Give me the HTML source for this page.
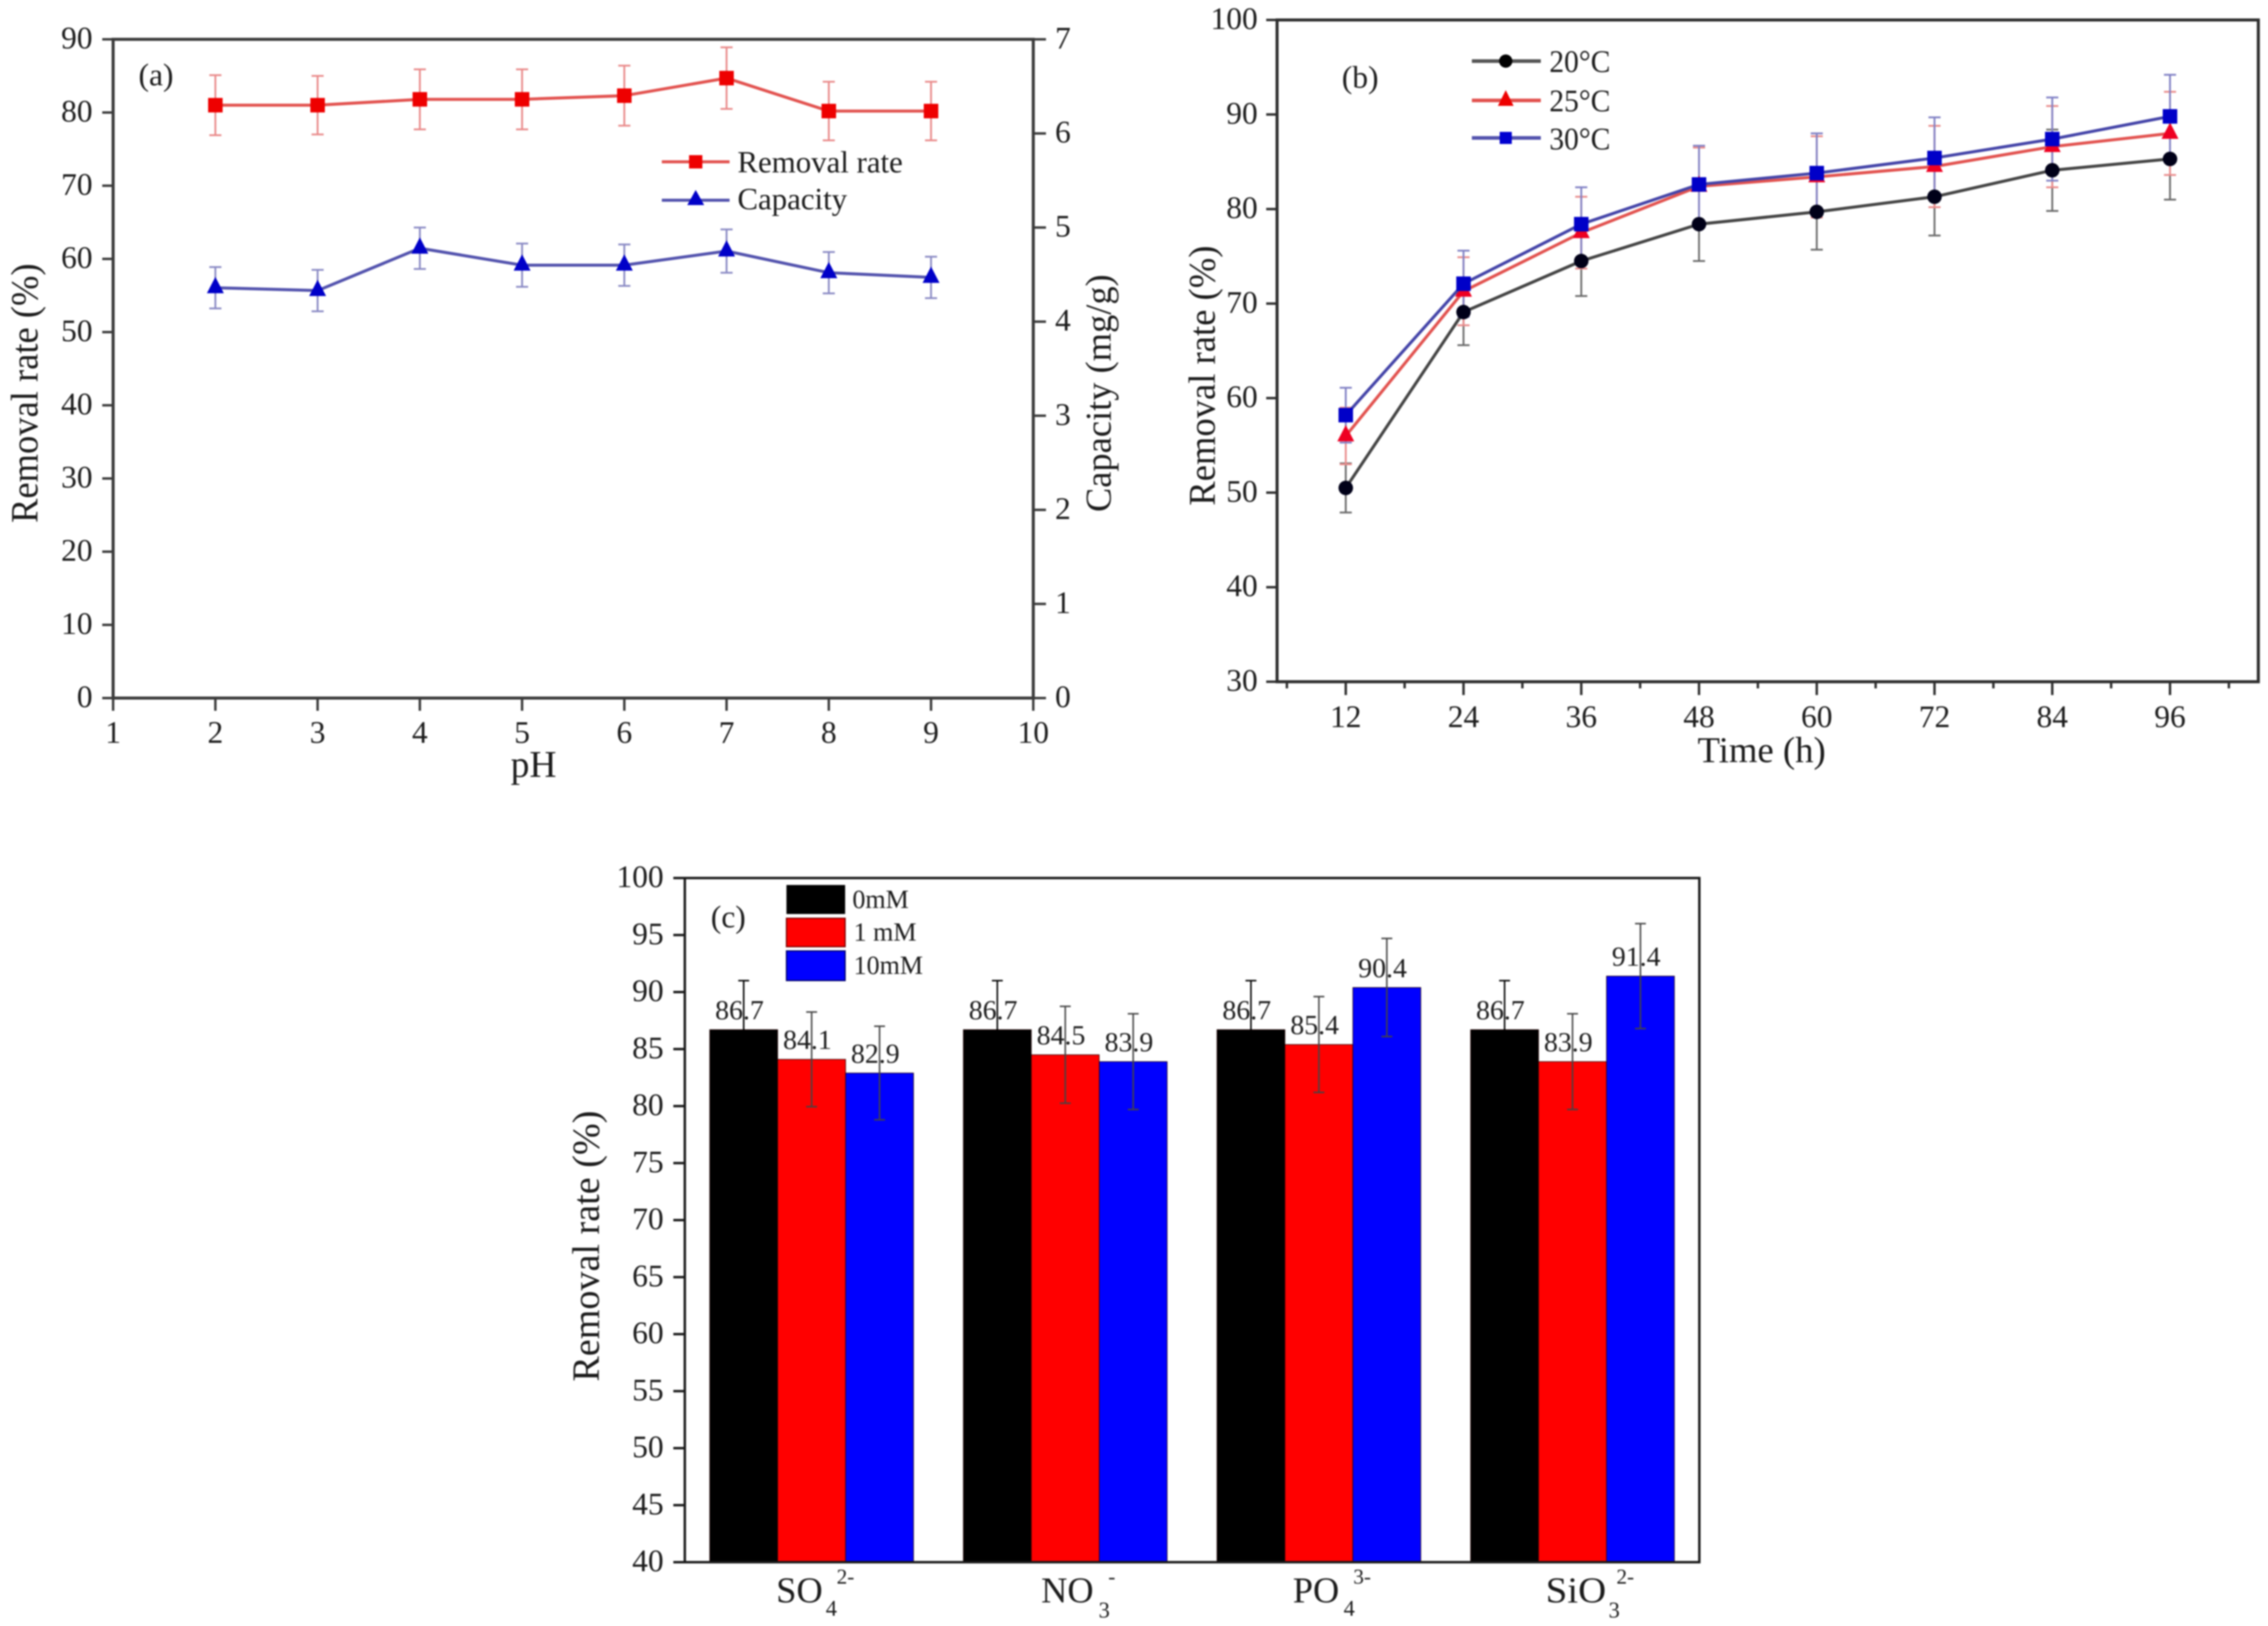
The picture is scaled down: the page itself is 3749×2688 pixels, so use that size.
<!DOCTYPE html>
<html lang="en">
<head>
<meta charset="utf-8">
<title>Removal rate charts</title>
<style>
html,body{margin:0;padding:0;background:#fff;}
svg{display:block;filter:blur(1.2px);font-family:"Liberation Serif",serif;}
text{fill:#1c1c1c;}
</style>
</head>
<body>
<svg id="figure" xmlns="http://www.w3.org/2000/svg" width="3749" height="2688" viewBox="0 0 3749 2688">
  <rect x="0" y="0" width="3749" height="2688" fill="#fff"/>

  <g id="panel-a">
    <text x="229" y="141" font-size="52">(a)</text>
    <text transform="translate(62,650) rotate(-90)" text-anchor="middle" font-size="64" textLength="429" lengthAdjust="spacingAndGlyphs">Removal rate (%)</text>
    <text transform="translate(1836,650) rotate(-90)" text-anchor="middle" font-size="60" textLength="393" lengthAdjust="spacingAndGlyphs">Capacity (mg/g)</text>
    <text x="882" y="1284" text-anchor="middle" font-size="62">pH</text>
    <g>
      <line x1="1094" x2="1206" y1="267.5" y2="267.5" stroke="#e2524f" stroke-width="5"/>
      <rect x="1139" y="256.5" width="22" height="22" fill="#ee0000"/>
      <text x="1219" y="285" font-size="51">Removal rate</text>
      <line x1="1094" x2="1206" y1="331" y2="331" stroke="#5252ad" stroke-width="5"/>
      <polygon points="1150,314 1136,339 1164,339" fill="#0000c8"/>
      <text x="1219" y="346" font-size="51">Capacity</text>
    </g>
  </g>

  <g id="panel-b">
    <text x="2218" y="145" font-size="52">(b)</text>
    <text transform="translate(2008,621) rotate(-90)" text-anchor="middle" font-size="62" textLength="430" lengthAdjust="spacingAndGlyphs">Removal rate (%)</text>
    <text x="2912" y="1260" text-anchor="middle" font-size="60" textLength="212" lengthAdjust="spacingAndGlyphs">Time (h)</text>
    <g>
      <line x1="2433" x2="2547" y1="101" y2="101" stroke="#555" stroke-width="6"/>
      <circle cx="2489" cy="101" r="11" fill="#000"/>
      <text x="2561" y="119" font-size="52" textLength="101" lengthAdjust="spacingAndGlyphs">20°C</text>
      <line x1="2433" x2="2547" y1="166" y2="166" stroke="#e2524f" stroke-width="6"/>
      <polygon points="2489,149 2476,175 2502,175" fill="#ee0000"/>
      <text x="2561" y="184" font-size="52" textLength="101" lengthAdjust="spacingAndGlyphs">25°C</text>
      <line x1="2433" x2="2547" y1="228" y2="228" stroke="#5252ad" stroke-width="6"/>
      <rect x="2479" y="218" width="20" height="20" fill="#0000d0"/>
      <text x="2561" y="247" font-size="52" textLength="101" lengthAdjust="spacingAndGlyphs">30°C</text>
    </g>
  </g>

  <g id="panel-c">
    <text x="1175" y="1533" font-size="52">(c)</text>
    <text transform="translate(990,2060) rotate(-90)" text-anchor="middle" font-size="64" textLength="448" lengthAdjust="spacingAndGlyphs">Removal rate (%)</text>
    <g>
      <rect x="1300" y="1463" width="97" height="48" fill="#000"/>
      <text x="1409" y="1501" font-size="43">0mM</text>
      <rect x="1300" y="1518" width="97" height="47" fill="#ff0000" stroke="#7a0000" stroke-width="2"/>
      <text x="1411" y="1555" font-size="43">1 mM</text>
      <rect x="1300" y="1572" width="97" height="49" fill="#0000ff" stroke="#00006a" stroke-width="2"/>
      <text x="1411" y="1610" font-size="43">10mM</text>
    </g>
    <g>
      <text x="1283" y="2649" font-size="60" textLength="77" lengthAdjust="spacingAndGlyphs">SO</text>
      <text x="1365" y="2671" font-size="37">4</text>
      <text x="1383" y="2618" font-size="35">2-</text>
      <text x="1721" y="2649" font-size="60">NO</text>
      <text x="1816" y="2674" font-size="37">3</text>
      <text x="1832" y="2618" font-size="35">-</text>
      <text x="2137" y="2649" font-size="60">PO</text>
      <text x="2221" y="2671" font-size="37">4</text>
      <text x="2237" y="2618" font-size="35">3-</text>
      <text x="2555" y="2649" font-size="60" textLength="100" lengthAdjust="spacingAndGlyphs">SiO</text>
      <text x="2659" y="2674" font-size="37">3</text>
      <text x="2672" y="2618" font-size="35">2-</text>
    </g>
  </g>
</svg>

<script>
/* Panel (a) data */
const phValues = [2, 3, 4, 5, 6, 7, 8, 9];
const removalRate = [81, 81, 81.8, 81.8, 82.3, 84.7, 80.2, 80.2];
const removalErr = [4.1, 4, 4.1, 4.1, 4.1, 4.2, 4, 4];
const capacityValues = [4.36, 4.33, 4.78, 4.6, 4.6, 4.75, 4.52, 4.47];
const capacityErr = [0.22, 0.22, 0.22, 0.23, 0.22, 0.23, 0.22, 0.22];
const phTicks = [1, 2, 3, 4, 5, 6, 7, 8, 9, 10];
const removalTicks = [0, 10, 20, 30, 40, 50, 60, 70, 80, 90];
const capacityTicks = [0, 1, 2, 3, 4, 5, 6, 7];

/* Panel (b) data */
const timeHours = [12, 24, 36, 48, 60, 72, 84, 96];
const minorTimeTicks = [6, 18, 30, 42, 54, 66, 78, 90, 102];
const temp20 = [50.5, 69.1, 74.5, 78.4, 79.7, 81.3, 84.1, 85.3];
const temp20Err = [2.6, 3.5, 3.7, 3.9, 4, 4.1, 4.3, 4.3];
const temp25 = [56, 71.3, 77.5, 82.4, 83.4, 84.5, 86.6, 88];
const temp25Err = [3, 3.6, 3.8, 4.1, 4.3, 4.3, 4.3, 4.4];
const temp30 = [58.2, 72.1, 78.4, 82.6, 83.8, 85.4, 87.4, 89.8];
const temp30Err = [2.9, 3.5, 3.9, 4.1, 4.2, 4.3, 4.4, 4.4];
const timeRemovalTicks = [30, 40, 50, 60, 70, 80, 90, 100];

/* Panel (c) data */
const ionCategories = ['SO4 2-', 'NO3 -', 'PO4 3-', 'SiO3 2-'];
const conc0mM = [86.7, 86.7, 86.7, 86.7];
const conc1mM = [84.1, 84.5, 85.4, 83.9];
const conc10mM = [82.9, 83.9, 90.4, 91.4];
const conc0mMErr = [4.3, 4.3, 4.3, 4.3];
const conc1mMErr = [4.15, 4.25, 4.2, 4.2];
const conc10mMErr = [4.1, 4.2, 4.3, 4.6];
const ionTicks = [40, 45, 50, 55, 60, 65, 70, 75, 80, 85, 90, 95, 100];

const SVG_NS = 'http://www.w3.org/2000/svg';

function make(parent, tag, attrs) {
  const el = document.createElementNS(SVG_NS, tag);
  for (const k in attrs) el.setAttribute(k, attrs[k]);
  parent.appendChild(el);
  return el;
}
function makeText(parent, str, x, y, size, anchor) {
  const el = make(parent, 'text', { x: x, y: y, 'font-size': size, 'text-anchor': anchor });
  el.textContent = str;
  return el;
}
function makeLine(parent, x1, y1, x2, y2, stroke, width) {
  return make(parent, 'line', { x1: x1, y1: y1, x2: x2, y2: y2, stroke: stroke, 'stroke-width': width });
}
function pointsAttr(xs, ys, xFn, yFn) {
  return xs.map(function (v, i) { return xFn(v) + ',' + yFn(ys[i]); }).join(' ');
}
function triPoints(x, y) {
  return x + ',' + (y - 18) + ' ' + (x - 14) + ',' + (y + 9) + ' ' + (x + 14) + ',' + (y + 9);
}

/* Axis functions */
const aLeft = 187, aRight = 1708, aTop = 65, aBottom = 1154;
const xA = function (v) { return aLeft + (v - 1) * (aRight - aLeft) / 9; };
const yA = function (v) { return aBottom - v * (aBottom - aTop) / 90; };
const yCap = function (v) { return aBottom - v * (aBottom - aTop) / 7; };

const bLeft = 2111, bRight = 3733, bTop = 33, bBottom = 1127;
const xB = function (v) { return bLeft + (v - 5) * (bRight - bLeft) / 100; };
const yB = function (v) { return bBottom - (v - 30) * (bBottom - bTop) / 70; };

const cLeft = 1132, cRight = 2809, cTop = 1451.5, cBottom = 2582.5;
const xC = function (i) { return cLeft + (i + 0.5) * (cRight - cLeft) / ionCategories.length; };
const yC = function (v) { return cBottom - (v - 40) * (cBottom - cTop) / 60; };

const panelA = document.getElementById('panel-a');
const panelB = document.getElementById('panel-b');
const panelC = document.getElementById('panel-c');

/* ---------- Panel (a) ---------- */
const axisColorA = '#3a3a3a';
const frameA = make(panelA, 'rect', { x: aLeft, y: aTop, width: aRight - aLeft, height: aBottom - aTop, fill: 'none', stroke: axisColorA, 'stroke-width': 5 });



removalTicks.forEach(function (t) {
  const tick = makeLine(panelA, aLeft - 18, yA(t), aLeft, yA(t), axisColorA, 4);
  
  
  const label = makeText(panelA, String(t), 153, yA(t) + 15, 52, 'end');
  
  
});
capacityTicks.forEach(function (t) {
  const tick = makeLine(panelA, aRight, yCap(t), aRight + 21, yCap(t), axisColorA, 4);
  
  
  const label = makeText(panelA, String(t), 1744, yCap(t) + 15, 52, 'start');
  
  
});
phTicks.forEach(function (t) {
  const tick = makeLine(panelA, xA(t), aBottom, xA(t), aBottom + 21, axisColorA, 4);
  
  
  const label = makeText(panelA, String(t), xA(t), 1228, 52, 'middle');
  
  
});

phValues.forEach(function (v, i) {
  const x = xA(v);
  const hi = yA(removalRate[i] + removalErr[i]);
  const lo = yA(removalRate[i] - removalErr[i]);
  const stem = makeLine(panelA, x, hi, x, lo, '#e98a8a', 3);
  
  
  const capTop = makeLine(panelA, x - 10, hi, x + 10, hi, '#e98a8a', 3);
  
  
  const capLow = makeLine(panelA, x - 10, lo, x + 10, lo, '#e98a8a', 3);
  
  
});
const removalLine = make(panelA, 'polyline', { points: pointsAttr(phValues, removalRate, xA, yA), fill: 'none', stroke: '#e2524f', 'stroke-width': 5 });


phValues.forEach(function (v, i) {
  const m = make(panelA, 'rect', { x: xA(v) - 12, y: yA(removalRate[i]) - 12, width: 24, height: 24, fill: '#ee0000' });
  
  
});

phValues.forEach(function (v, i) {
  const x = xA(v);
  const hi = yCap(capacityValues[i] + capacityErr[i]);
  const lo = yCap(capacityValues[i] - capacityErr[i]);
  const stem = makeLine(panelA, x, hi, x, lo, '#8a8ac4', 3);
  
  
  const capTop = makeLine(panelA, x - 10, hi, x + 10, hi, '#8a8ac4', 3);
  
  
  const capLow = makeLine(panelA, x - 10, lo, x + 10, lo, '#8a8ac4', 3);
  
  
});
const capacityLine = make(panelA, 'polyline', { points: pointsAttr(phValues, capacityValues, xA, yCap), fill: 'none', stroke: '#5252ad', 'stroke-width': 5 });


phValues.forEach(function (v, i) {
  const m = make(panelA, 'polygon', { points: triPoints(xA(v), yCap(capacityValues[i])), fill: '#0000c8' });
  
  
});

/* ---------- Panel (b) ---------- */
const axisColorB = '#2e2e2e';
const frameB = make(panelB, 'rect', { x: bLeft, y: bTop, width: bRight - bLeft, height: bBottom - bTop, fill: 'none', stroke: axisColorB, 'stroke-width': 5 });



timeRemovalTicks.forEach(function (t) {
  const tick = makeLine(panelB, bLeft - 18, yB(t), bLeft, yB(t), axisColorB, 4);
  
  
  const label = makeText(panelB, String(t), 2079, yB(t) + 15, 52, 'end');
  
  
});
timeHours.forEach(function (t) {
  const tick = makeLine(panelB, xB(t), bBottom, xB(t), bBottom + 22, axisColorB, 4);
  
  
  const label = makeText(panelB, String(t), xB(t), 1202, 52, 'middle');
  
  
});
minorTimeTicks.forEach(function (t) {
  const tick = makeLine(panelB, xB(t), bBottom, xB(t), bBottom + 11, axisColorB, 4);
  
  
});

function drawErrorsB(values, errs, color) {
  timeHours.forEach(function (v, i) {
    const x = xB(v);
    const hi = yB(values[i] + errs[i]);
    const lo = yB(values[i] - errs[i]);
    const stem = makeLine(panelB, x, hi, x, lo, color, 3);
    
    
    const capTop = makeLine(panelB, x - 10, hi, x + 10, hi, color, 3);
    
    
    const capLow = makeLine(panelB, x - 10, lo, x + 10, lo, color, 3);
    
    
  });
}
drawErrorsB(temp20, temp20Err, '#6a6a6a');
drawErrorsB(temp25, temp25Err, '#e98a8a');
drawErrorsB(temp30, temp30Err, '#8080c4');

const line20 = make(panelB, 'polyline', { points: pointsAttr(timeHours, temp20, xB, yB), fill: 'none', stroke: '#444444', 'stroke-width': 5 });


timeHours.forEach(function (v, i) {
  const m = make(panelB, 'circle', { cx: xB(v), cy: yB(temp20[i]), r: 12, fill: '#000018' });
  
  
});
const line25 = make(panelB, 'polyline', { points: pointsAttr(timeHours, temp25, xB, yB), fill: 'none', stroke: '#e2524f', 'stroke-width': 5 });


timeHours.forEach(function (v, i) {
  const m = make(panelB, 'polygon', { points: triPoints(xB(v), yB(temp25[i])), fill: '#ee0022' });
  
  
});
const line30 = make(panelB, 'polyline', { points: pointsAttr(timeHours, temp30, xB, yB), fill: 'none', stroke: '#4444a8', 'stroke-width': 5 });


timeHours.forEach(function (v, i) {
  const m = make(panelB, 'rect', { x: xB(v) - 12, y: yB(temp30[i]) - 12, width: 24, height: 24, fill: '#0000c8' });
  
  
});

/* ---------- Panel (c) ---------- */
const axisColorC = '#1a1a1a';
const barWidth = 112.3;
function drawBars(values, offset, fill) {
  values.forEach(function (v, i) {
    const bar = make(panelC, 'rect', {
      x: xC(i) + offset * barWidth - barWidth / 2,
      y: yC(v),
      width: barWidth,
      height: cBottom - yC(v),
      fill: fill,
      stroke: '#200000',
      'stroke-width': 1
    });
    
    
  });
}
drawBars(conc0mM, -1, '#000000');
drawBars(conc1mM, 0, '#ff0000');
drawBars(conc10mM, 1, '#0000ff');

function drawBarExtras(values, errs, offset, color) {
  values.forEach(function (v, i) {
    const x = xC(i) + offset * barWidth;
    const hi = yC(v + errs[i]);
    const lo = yC(v - errs[i]);
    const stem = makeLine(panelC, x, hi, x, lo, color, 2.5);
    
    
    const capTop = makeLine(panelC, x - 9, hi, x + 9, hi, color, 2.5);
    
    
    const capLow = makeLine(panelC, x - 9, lo, x + 9, lo, color, 2.5);
    
    
    const label = makeText(panelC, v.toFixed(1), x - 7, yC(v) - 17, 46, 'middle');
    
    
  });
}
drawBarExtras(conc0mM, conc0mMErr, -1, '#000000');
drawBarExtras(conc1mM, conc1mMErr, 0, '#444444');
drawBarExtras(conc10mM, conc10mMErr, 1, '#444444');

const frameC = make(panelC, 'rect', { x: cLeft, y: cTop, width: cRight - cLeft, height: cBottom - cTop, fill: 'none', stroke: axisColorC, 'stroke-width': 4 });



ionTicks.forEach(function (t) {
  const tick = makeLine(panelC, cLeft - 19, yC(t), cLeft, yC(t), axisColorC, 4);
  
  
  const label = makeText(panelC, String(t), 1097, yC(t) + 15, 52, 'end');
  
  
});
</script>
</body>
</html>
